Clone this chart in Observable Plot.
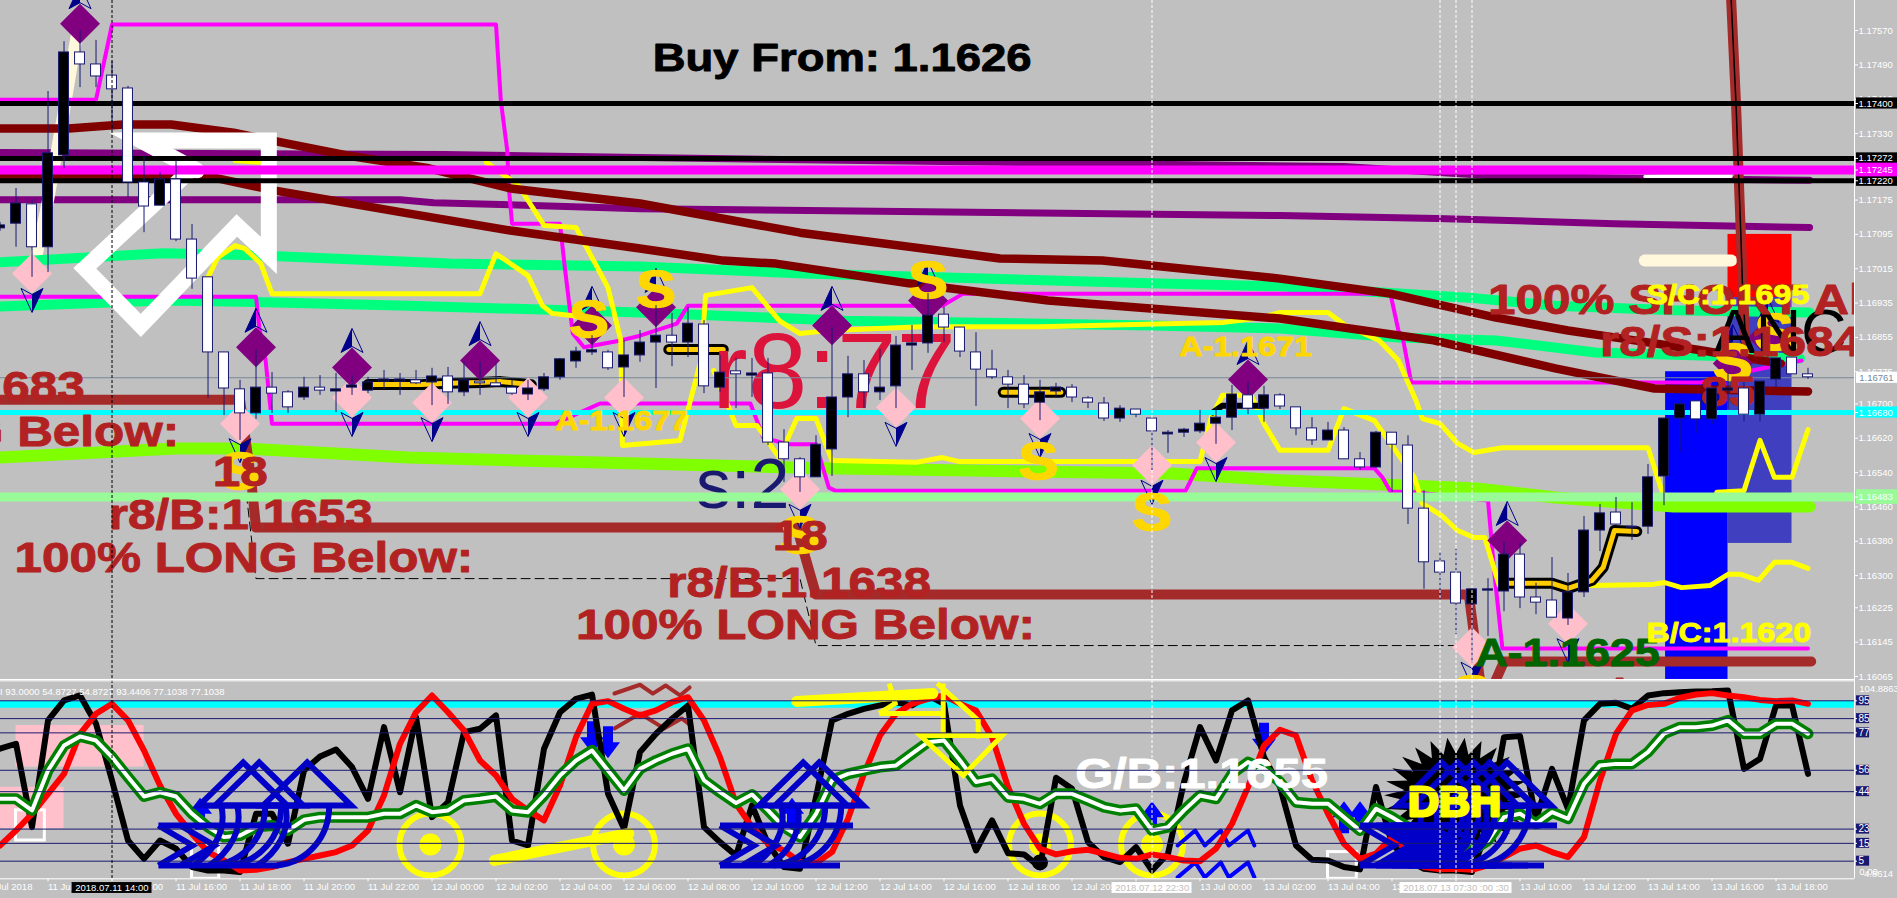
<!DOCTYPE html>
<html><head><meta charset="utf-8">
<script src="https://cdn.jsdelivr.net/npm/d3@7"></script>
<script src="https://cdn.jsdelivr.net/npm/@observablehq/plot@0.6"></script>
<style>
html,body{margin:0;padding:0;background:#C0C0C0;overflow:hidden}
#chart svg{display:block}
</style></head><body><div id="chart"></div>
<script>
// Prices in points (1e-5). x is the bar number: bar 0 = 11 Jul 14:00, one bar = 30 minutes.
const firstBar = -7;
const barHigh = [117123,117202,117176,117428,117544,117570,117547,117498,117440,117279,117239,117267,117118,116995,116820,116755,116825,116773,116731,116762,116766,116771,116766,116762,116778,116771,116778,116783,116785,116797,116797,116794,116755,116755,116771,116806,116832,116859,116825,116848,116871,116929,116911,116925,116894,116813,116806,116806,116806,116640,116575,116626,116878,116811,116801,116827,116857,116883,116957,116925,116878,116866,116825,116778,116766,116755,116748,116745,116717,116715,116696,116687,116666,116638,116643,116685,116692,116743,116750,116741,116724,116692,116668,116657,116645,116587,116636,116633,116626,116498,116354,116361,116268,116293,116377,116375,116282,116342,116305,116438,116466,116482,116470,116559,116666,116708,116706,116736,116773,116750,116752,116806,116808,116783];
const barLow = [117102,117065,116995,117006,117249,117437,117437,117337,117181,117099,117162,117078,116967,116713,116673,116615,116664,116678,116678,116708,116720,116680,116720,116724,116734,116720,116745,116696,116699,116717,116720,116738,116720,116708,116729,116755,116783,116813,116778,116715,116797,116736,116787,116808,116724,116727,116689,116715,116603,116517,116494,116529,116531,116668,116689,116708,116689,116778,116818,116843,116808,116694,116757,116689,116689,116661,116713,116703,116689,116659,116657,116668,116545,116585,116622,116631,116606,116638,116675,116657,116687,116626,116603,116615,116571,116545,116550,116494,116419,116268,116244,116163,116095,116158,116216,116223,116209,116202,116184,116249,116356,116417,116382,116396,116463,116587,116631,116652,116687,116659,116659,116738,116769,116757];
const barOpen = [117109,117120,117165,117065,117279,117519,117491,117465,117435,117216,117162,117223,117083,116995,116820,116734,116678,116738,116727,116715,116738,116729,116738,116731,116752,116752,116755,116750,116764,116727,116752,116748,116738,116722,116734,116762,116799,116820,116820,116785,116813,116843,116859,116843,116885,116738,116776,116766,116771,116610,116571,116529,116594,116715,116769,116727,116741,116836,116841,116908,116878,116820,116780,116762,116745,116703,116729,116738,116713,116701,116666,116687,116666,116629,116633,116636,116654,116668,116720,116689,116720,116692,116643,116615,116638,116571,116552,116633,116603,116456,116333,116307,116233,116265,116263,116349,116249,116242,116200,116261,116405,116447,116412,116414,116531,116666,116706,116664,116731,116736,116675,116757,116808,116769];
const barClose = [117116,117167,117065,117284,117519,117491,117463,117433,117216,117160,117223,117083,116992,116820,116736,116678,116738,116724,116692,116738,116731,116734,116743,116750,116757,116757,116748,116764,116727,116755,116748,116741,116724,116736,116762,116804,116822,116825,116783,116813,116843,116859,116843,116887,116741,116773,116769,116771,116610,116571,116529,116605,116715,116769,116727,116738,116836,116841,116906,116878,116822,116780,116762,116745,116699,116727,116738,116715,116703,116666,116689,116675,116636,116633,116640,116654,116668,116722,116689,116720,116694,116643,116615,116638,116571,116552,116633,116605,116456,116331,116307,116235,116268,116268,116349,116249,116237,116202,116261,116405,116445,116419,116414,116529,116666,116699,116664,116736,116736,116675,116752,116806,116769,116762];

// Horizontal price levels
const blackLevels = [117400,117272,117220];
const magentaLevel = [117245];
const cyanLevel = [116680];
const paleGreenLevel = [116483];
const lastPrice = [116761];

// Right price axis
const plainPriceTicks = [117570,117490,117410,117330,117175,117095,117015,116935,116855,116775,116700,116620,116540,116460,116380,116300,116225,116145,116065];
const boxedPriceTicks = [117400,117272,117245,117220,116680,116483];

// Indicator lines: [bar, price points]
const magentaA = [[-7,117409],[-1,117409],[0,117584],[24,117584],[24.3,117407],[24.7,117291],[24.8,117204],[25,117120],[28,117120],[28.3,117018],[28.8,116864],[29.5,116832],[31.8,116848],[33,116859],[35.3,116887],[36,116929],[51.9,116929],[53.2,116957],[79.9,116957],[80.4,116871],[80.7,116848],[81.2,116750],[99.3,116750],[102.5,116778],[105.6,116801]];
const magentaB = [[-7,116950],[9,116950],[9.2,116878],[9.6,116801],[10,116654],[27.7,116654],[30.5,116701],[39.9,116701],[40.7,116622],[42.2,116606],[44,116606],[44.8,116505],[45.2,116498],[67.1,116498],[67.8,116550],[78.9,116550],[79.4,116529],[79.9,116496],[81.4,116494],[86,116475],[86.4,116305],[86.9,116130],[106,116130]];
const maroonUpper = [[-7,117342],[-2.7,117342],[0.7,117351],[3.7,117351],[7.6,117332],[10.9,117307],[14.7,117279],[19.8,117249],[24.9,117202],[33,117167],[43,117099],[55.5,117039],[61.9,117034],[73,116992],[79.9,116957],[86.5,116901],[91,116871],[93.9,116855],[99.3,116825],[104.3,116794]];
const maroonLower = [[-7,117230],[6.3,117228],[10.2,117197],[18.5,117144],[24.9,117104],[33,117062],[38.2,117034],[41.5,117027],[49.8,116981],[58.5,116941],[73,116899],[82.6,116848],[90.2,116783],[96.4,116736],[106,116729]];
const purpleUpper = [[-7,117286],[20.8,117281],[33,117274],[55.5,117263],[77,117253],[87,117230],[106.1,117221]];
const purpleLower = [[-7,117176],[18,117176],[20.1,117169],[33,117155],[73,117139],[82.8,117132],[93.9,117120],[106.1,117111]];
const springUpper = [[-7,117030],[3.2,117051],[9.3,117046],[21.1,117027],[33,117020],[43.2,117004],[64.9,116981],[73,116974],[85.3,116946],[90.2,116929],[97.6,116918],[106.1,116913]];
const springLower = [[-7,116927],[3.2,116941],[10.9,116936],[18.5,116929],[33,116913],[45.8,116894],[64.9,116883],[73,116876],[80.4,116855],[86.5,116848],[92.7,116820],[105.5,116806]];
const lawnLine = [[-7,116575],[4,116596],[8.3,116596],[18.5,116575],[33,116561],[44.5,116550],[66.2,116538],[73,116522],[85.3,116503],[90.2,116482],[97.6,116461],[106.1,116461]];
const yellowA = [[6,116995],[6.6,117041],[7.7,117069],[8.3,117062],[9.3,117027],[10,116957],[23,116957],[24,117050],[26,116999],[26.9,116929],[27.5,116911],[28.7,116906],[29.9,116899]];
const yellowB = [[7.7,117267],[9.3,117263]];
const yellowC = [[23.4,117263],[25.4,117209],[27,117116],[29,117111],[31,116971],[31.8,116848],[31.9,116603],[35.5,116615],[36.8,116801],[37.1,116953],[40,116971],[41.7,116894],[43,116864],[44.8,116871],[50.6,116880],[58,116880],[65.9,116887],[69.5,116890],[71.8,116901],[73,116913],[76,116913],[77.1,116883],[79.2,116848],[80.4,116801],[81.5,116708],[81.9,116666],[83,116654],[84.1,116608],[85.1,116587],[86.9,116598],[96,116598],[97,116482]];
const yellowD = [[37.6,116778],[39,116650],[40.3,116650],[41.7,116575],[42.8,116666],[44,116666],[45,116568],[50.3,116564],[51.9,116575],[52.9,116566],[68,116566],[68.7,116668],[69.4,116720],[71.2,116720],[72,116654],[73,116592],[76,116592],[77,116689],[78.9,116661],[81.4,116529],[81.9,116468],[83.1,116440],[84.1,116405],[85.1,116389],[85.8,116389],[86.7,116277],[92.5,116277],[96.2,116279],[97,116284],[98.1,116272],[99.9,116277],[101,116303],[101.8,116303],[102.9,116289],[103.9,116331],[105,116331],[106,116317]];
const yellowE = [[100.3,116494],[102,116498],[103,116615],[103.9,116529],[105,116529],[106,116640]];
const brownStep = [[-7,116710],[8,116710],[8.7,116522],[9,116412],[42.8,116412],[44,116256],[84.8,116256],[85.5,116056],[86.2,116032],[87,116100],[106.2,116100]];
const brownTall = [[101.2,117640],[101.5,117400],[101.8,117097],[101.9,116981],[102.1,116848]];
const dashedStep = [[8.3,116522],[9,116293],[43,116293],[44,116137],[84.8,116137],[85.2,116056]];
const creamSpike = [[-5,116995],[-4,117174],[-3,117384],[-2.1,117582]];
const creamPill = [[95.8,117034],[101.2,117034]];
const whitePiece = [[95.8,117230],[101.2,117230]];
const whiteArrow = [[5.3,117244],[1.8,117314],[9.8,117314],[9.8,117046],[7.8,117116],[1.8,116883],[-1.7,117016],[4.9,117244]];
const goldRuns = [
  [[16,116745],[19.3,116745],[21,116748],[23,116750],[24.3,116752],[26.2,116745]],
  [[34.8,116827],[38.2,116827]],
  [[55.7,116727],[59.3,116727]],
  [[87.3,116282],[90,116282],[91,116270],[92.5,116289],[93.2,116319],[93.9,116405],[95.3,116403]]
];
const blackRun = [[68.8,116680],[69.4,116696],[71.9,116696]];

// Shaded zones: [bar from, bar to, price low, price high]
const blueZone = [97.1,101,116000,116775];
const redZone = [101,105,116948,117095];
const indigoZone = [101,105,116375,116948];

// Markers: [bar, price points]
const purpleMarks = [[-2,117586],[9,116832],[15,116785],[23,116801],[30,116883],[34,116925],[45,116883],[51,116941],[71,116757],[87.2,116382],[101.3,116794],[103.5,116855]];
const pinkMarks = [[-5,117004],[8,116654],[15,116715],[20,116703],[26,116715],[32,116715],[43,116501],[49,116692],[58,116666],[65,116557],[69,116610],[85,116133],[91,116188]];
const goldS = [[29.8,116894],[34,116964],[51,116985],[57.9,116564],[65,116445],[8,116540],[43,116391],[101.3,116794],[103.9,116864],[85,116021]];

// Labels: [text, bar, price points]
const brownStart = [["r8/B:1.1653",-0.2,116440],["100% LONG Below:",-6.1,116340],["r8/B:1.1638",34.7,116282],["100% LONG Below:",29,116184],["100% LONG Below:",71.3,116021],["18",6.3,116540],["18",41.3,116391],["85",99.3,116727]];
const brownEnd = [["r8/B:1.1683",-1.7,116738],["100% LONG Below:",4.2,116633]];
const brownTop = [["100% SHORT Above:",86,116941],["r8/S:1.1684",93,116843]];
const goldLabels = [["A-1.1671",66.7,116832],["A-1.1677",27.7,116661],["A-1.1755",-6.4,117665]];
const yellowLabels = [["B/C:1.1620",95.9,116167],["S/C:1.1695",95.9,116953]];

// Lower panel: oscillator readings per bar, from bar -7
const oscBlack = [68.1,70.9,24.1,84,95.2,98,82.1,50.3,16.6,6.3,16.6,12,1.7,-0.2,-0.2,-1.1,31.6,31.6,14.8,55.9,63.8,67.7,57.8,40,80.2,43.7,85.8,29.7,38.1,77.4,79.3,86.8,16.6,13.8,68.1,88.6,96.1,98.5,42.8,23.2,66.2,76.5,84.9,92.4,24.1,15.7,8.2,36.3,14.8,1.7,0.7,40.9,84,87.7,90.5,92.4,94.2,92.4,98,93.3,36.3,11,27.9,9.5,8.8,1.7,51.8,45.6,15.7,7.3,4.5,12.9,-0.2,9.2,49.4,80.2,61.5,89.6,95.2,63.4,46.6,13.8,5.8,5.4,1.7,0.4,46.6,14.8,5.4,0.7,-0.2,-0.2,-1.1,24.1,74.6,75.2,28.8,56.8,34.4,84,93.3,93.9,90.5,98,99.3,99.8,100.2,100.4,100.8,56.8,62.4,92.4,92.4,54];
const oscRed = [13.8,22.2,31.6,42.8,54,76.5,87.7,93.3,84,67.1,47.5,31.6,20.4,10.1,5.4,-0.2,0.2,1.7,4.5,6.3,8.2,10.1,13.8,22.2,41.9,70.9,88.6,98,88.6,78.3,61.5,53.1,40,33.5,27.9,47.5,74.6,93.3,94.8,90.5,86.8,89.6,94.2,97,84,63.4,37.2,24.1,14.8,11,4.5,3.9,10.1,28.8,54,75.5,87.7,93.3,96.1,98,93.3,89.6,74.6,46.6,26,12,8.8,10.6,11.4,9.2,6.9,6.3,8.8,7.3,5.4,5,12,26,46.6,69.9,78.7,75.5,50.3,31.6,14.8,6.3,9.2,18.5,11,1.7,0.4,0.7,0.2,2.6,7.3,12,13.8,10.1,7.3,18.5,50.3,76.5,89.6,92.7,93.3,96.7,98.5,99.3,98,97,95.5,94.8,95.2,93.3];
const oscGreen = [40,40,33.5,55.9,69.9,75,72.7,63.4,52.2,41.3,43.7,41.3,31.6,24.1,18.5,19.4,24.1,25,22.2,28.2,29.7,29.7,29.7,29.7,31.6,31.6,36.3,32.5,33.5,39.1,40,41.3,33.5,32.5,41.9,53.1,61.5,67.1,55.9,44.7,56.8,61.5,65.3,68.1,50.3,43.7,37.6,42.4,33.5,24.1,18.5,31.6,50.3,54,55.9,57.8,58.7,65.3,71.8,72.7,61.5,49.4,51.2,40.9,40,37.2,42.8,42.8,39.1,35.3,33.5,34.4,22.2,24.1,33.5,41.9,40,54,60.6,56.8,49.4,38.1,37.2,37.2,29.7,22.2,34.4,29.7,24.1,18.5,11,7.3,11,16.6,29.7,31.6,26,32.5,28.8,48.4,58.7,59.6,59.6,66.2,76.5,80.2,80.2,81.1,84,76.5,76.5,82.1,82.1,76.5];
const oscLevels = [95,85,77,56,44,23,15,5];
const cyanBand = [93];
const pinkZones = [[-6,2,57.8,81.1],[-7,-3,23.2,46.5]];
const whiteBoxes = [[-6,-4.2,16.6,33.5],[5,6.7,-4.9,14.8],[76,77.8,-4.9,10.1]];
const ringCentres = [[19.9,14.4],[32,14.4],[58,14.4],[65,14.4]];
const blackDisc = [[58,4.3]];
const yellowPills = [[[23.9,5.4],[32.3,20.6]],[[42.8,94.6],[51.3,99.1]]];
const brownZig = [[[31.4,99.1],[33,104],[33.8,99],[34.6,103.6],[35.5,98],[36.1,102.5]],[[31.4,79.5],[33,87.9],[34.5,79.5],[35.6,85.1],[36.2,81.1]]];
const blueZig = [[[66.6,13.8],[67.7,22.2],[68.3,13.8],[69.3,22.2],[69.8,13.8],[71,22.2],[71.4,13.8]],[[66.6,-4.1],[67.7,4.3],[68.3,-4.1],[69.3,4.3],[69.8,-4.1],[71,4.3],[71.4,-4.1]]];
const blueUpGlyphs = [[8.2,60.4],[9.2,60.4],[12.2,60.4],[43.2,60.4],[44.2,60.4],[83.1,60.4],[84.1,60.4],[85.1,60.4],[86.1,60.4],[87.2,60.4]];
const blueChevrons = [[2.9,13.8],[38,13.8],[78,13.8],[79,13.8],[80,13.8],[81,13.8],[82,13.8]];
const blockDown = [[30,74.6],[31,71.8],[72,73.7]];
const blockUp = [[5.5,31.6],[42.5,31.6],[65,29.7],[77,29.7],[78,29.7]];
const burst = [[84,42]];
const yellowGlyph = [[53.2,53.1]];

// Time axis
const timeTicks = [-8,-4,0,4,8,12,16,20,24,28,32,36,40,44,48,52,56,60,64,68,72,76,80,84,88,92,96,100,104];
const timeLabels = ["11 Jul 2018","11 Jul 12:00","11 Jul 14:00","11 Jul 16:00","11 Jul 18:00","11 Jul 20:00","11 Jul 22:00","12 Jul 00:00","12 Jul 02:00","12 Jul 04:00","12 Jul 06:00","12 Jul 08:00","12 Jul 10:00","12 Jul 12:00","12 Jul 14:00","12 Jul 16:00","12 Jul 18:00","12 Jul 20:00","12 Jul 22:00","13 Jul 00:00","13 Jul 02:00","13 Jul 04:00","13 Jul 06:00","13 Jul 08:00","13 Jul 10:00","13 Jul 12:00","13 Jul 14:00","13 Jul 16:00","13 Jul 18:00"];
const blackCursor = [0];
const whiteCursors = [65,83,84,85];

const bars = barHigh.map((h,k)=>({i:firstBar+k,h,l:barLow[k],o:barOpen[k],c:barClose[k]}));
const osc = oscBlack.map((b,k)=>({i:firstBar+k,b,r:oscRed[k],g:oscGreen[k]}));
const X = d=>d[0], Y = d=>d[1];
const xDomain = [-6.97,108.906];
const FONT = '"Liberation Sans",Arial,sans-serif';

function ln(data,stroke,strokeWidth,extra={}){return Plot.line(data,{x:X,y:Y,stroke,strokeWidth,clip:true,strokeLinejoin:"round",...extra});}
function lab(data,size,fill,extra={}){return Plot.text(data,{text:d=>d[0],x:d=>d[1],y:d=>d[2],fontSize:size,fill,stroke:fill,strokeWidth:0.9,fontWeight:"bold",fontFamily:FONT,textAnchor:"start",lineAnchor:"middle",clip:true,className:"wide",...extra});}
function wideSingle(t,x,y,size,fill,extra={}){return lab([[t,x,y]],size,fill,extra);}
function box(y,half,fill){return Plot.rect([y],{x1:109.03,x2:111.7,y1:d=>d-half,y2:d=>d+half,fill});}

// custom glyphs for chart-window arrows (pixel shapes drawn by Plot.dot)
const kiteUpFill={draw(c){c.moveTo(0,-15);c.lineTo(-11,9);c.lineTo(0,3);c.closePath();}};
const kiteUpLine={draw(c){c.moveTo(0,-15);c.lineTo(-11,9);c.lineTo(0,3);c.lineTo(11,9);c.closePath();}};
const kiteDownFill={draw(c){c.moveTo(0,15);c.lineTo(11,-9);c.lineTo(0,-3);c.closePath();}};
const kiteDownLine={draw(c){c.moveTo(0,15);c.lineTo(11,-9);c.lineTo(0,-3);c.lineTo(-11,-9);c.closePath();}};
const upGlyph={draw(c){c.moveTo(0,0);c.lineTo(-44,43);c.lineTo(44,43);c.closePath();
  c.moveTo(22,43);c.bezierCurveTo(22,75,0,100,-30,103);
  c.moveTo(-22,43);c.bezierCurveTo(-16,68,-30,90,-50,103);}};
const chevGlyph={draw(c){c.moveTo(0,-20);c.lineTo(34,0);c.lineTo(0,20);c.moveTo(22,-20);c.lineTo(56,0);c.lineTo(22,20);
  c.moveTo(0,-20);c.lineTo(133,-20);c.moveTo(0,20);c.lineTo(120,20);}};
const blockDownSym={draw(c){c.moveTo(-5,-16);c.lineTo(5,-16);c.lineTo(5,0);c.lineTo(12,0);c.lineTo(0,16);c.lineTo(-12,0);c.lineTo(-5,0);c.closePath();}};
const blockUpSym={draw(c){c.moveTo(-5,16);c.lineTo(5,16);c.lineTo(5,0);c.lineTo(12,0);c.lineTo(0,-16);c.lineTo(-12,0);c.lineTo(-5,0);c.closePath();}};
const burstSym={draw(c){const n=26;for(let k=0;k<2*n;k++){const a=k*Math.PI/n,f=k%2?0.72:1;const px=Math.cos(a)*72*f,py=Math.sin(a)*58*f;k?c.lineTo(px,py):c.moveTo(px,py);}c.closePath();}};
const yellowSym={draw(c){c.moveTo(-43,-40);c.lineTo(39,-40);c.lineTo(0,0);c.closePath();
  c.moveTo(-20,-40);c.lineTo(-20,-92);c.moveTo(-84,-62);c.lineTo(-20,-62);
  c.moveTo(-74,-92);c.lineTo(-68,-72);c.lineTo(-84,-62);
  c.moveTo(-26,-92);c.lineTo(15,-55);c.lineTo(15,-37);}};

const tickStyle = {anchor:"right",tickFormat:d=>(d/1e5).toFixed(5),tickSize:3,tickPadding:1,fontSize:9.5,fill:"#FFFFFF",stroke:"#FFFFFF",label:null};

const main = Plot.plot({
  width:1897,height:680,marginTop:0,marginLeft:0,marginBottom:0,marginRight:43,
  style:{background:"#C0C0C0",fontFamily:FONT,display:"block"},
  x:{domain:xDomain,axis:null},
  y:{domain:[116055.6,117640],axis:null},
  marks:[
    Plot.rect([redZone],{x1:d=>d[0],x2:d=>d[1],y1:d=>d[2],y2:d=>d[3],fill:"#FF0000",clip:true}),
    Plot.rect([indigoZone],{x1:d=>d[0],x2:d=>d[1],y1:d=>d[2],y2:d=>d[3],fill:"#3F3FBF",clip:true}),
    Plot.rect([blueZone],{x1:d=>d[0],x2:d=>d[1],y1:d=>d[2],y2:d=>d[3],fill:"#0000FF",clip:true}),
    ln(purpleUpper,"#800080",7,{strokeLinecap:"round"}),
    ln(purpleLower,"#800080",7,{strokeLinecap:"round"}),
    ln(creamSpike,"#FFF8DC",12,{strokeLinecap:"round"}),
    ln(springUpper,"#00FF7F",10),
    ln(springLower,"#00FF7F",10),
    ln(lawnLine,"#7FFF00",12,{strokeLinecap:"round"}),
    ln(magentaA,"#FF00FF",4),
    ln(magentaB,"#FF00FF",4),
    ln(yellowA,"#FFFF00",5),ln(yellowB,"#FFFF00",5),ln(yellowC,"#FFFF00",5),ln(yellowD,"#FFFF00",5),ln(yellowE,"#FFFF00",5),
    ln(maroonUpper,"#800000",8.5),
    ln(maroonLower,"#800000",8.5,{strokeLinecap:"round"}),
    ln(whitePiece,"#FFFFFF",3),
    ln(creamPill,"#FFF8DC",12,{strokeLinecap:"round"}),
    ln(whiteArrow,"#FFFFFF",16,{strokeLinejoin:"miter",strokeMiterlimit:10}),
    ln(brownStep,"#A52A2A",10,{strokeLinecap:"round"}),
    ln(brownTall,"#A52A2A",10),
    ln(brownTall,"#000000",1.5),
    ln(blackRun,"#000000",6),
    ...goldRuns.map(r=>ln(r,"#000000",11,{strokeLinecap:"round"})),
    ...goldRuns.map(r=>ln(r,"#FFCC00",5,{strokeLinecap:"round"})),
    ln(dashedStep,"#000000",1,{strokeDasharray:"9,5"}),
    Plot.text(["r8:77"],{x:37.5,y:116771,fontSize:107,fill:"#DC143C",fontFamily:FONT,textAnchor:"start",lineAnchor:"middle",clip:true}),
    Plot.text(["s:2"],{x:36.5,y:116510,fontSize:70,fill:"#191970",fontFamily:FONT,textAnchor:"start",lineAnchor:"middle",clip:true}),
    Plot.ruleY(blackLevels,{stroke:"#000000",strokeWidth:5}),
    Plot.ruleY(magentaLevel,{stroke:"#FF00FF",strokeWidth:9}),
    Plot.ruleY(cyanLevel,{stroke:"#00FFFF",strokeWidth:5}),
    Plot.ruleY(paleGreenLevel,{stroke:"#98FB98",strokeWidth:9}),
    Plot.ruleY(lastPrice,{stroke:"#778899",strokeWidth:1}),
    Plot.dot(pinkMarks,{x:X,y:Y,symbol:"diamond2",r:18,fill:"#FFC0CB",clip:true}),
    Plot.dot(purpleMarks,{x:X,y:Y,symbol:"diamond2",r:18,fill:"#800080",clip:true}),
    Plot.dot(pinkMarks,{x:X,y:Y,symbol:kiteDownLine,r:1,fill:"none",stroke:"#00008B",strokeWidth:1,dy:24,clip:true}),
    Plot.dot(pinkMarks,{x:X,y:Y,symbol:kiteDownFill,r:1,fill:"#00008B",dy:24,clip:true}),
    Plot.dot(purpleMarks,{x:X,y:Y,symbol:kiteUpLine,r:1,fill:"none",stroke:"#00008B",strokeWidth:1,dy:-24,clip:true}),
    Plot.dot(purpleMarks,{x:X,y:Y,symbol:kiteUpFill,r:1,fill:"#00008B",dy:-24,clip:true}),
    Plot.text(goldS,{text:()=>"S",x:X,y:Y,fontSize:52,fontWeight:"bold",fill:"#FFD700",stroke:"#FFD700",strokeWidth:1.5,fontFamily:FONT,textAnchor:"middle",lineAnchor:"middle",clip:true,className:"wide"}),
    Plot.text(["ANC"],{x:100.1,y:116866,fontSize:63,fill:"#000000",fontFamily:FONT,textAnchor:"start",lineAnchor:"middle",clip:true}),
    lab(brownStart,43,"#B22222"),
    lab(brownEnd,43,"#B22222",{textAnchor:"end"}),
    lab(goldLabels,28,"#FFD700"),
    wideSingle("A-1.1625",85.2,116118,39,"#006400"),
    wideSingle("Buy From: 1.1626",33.8,117505,39.5,"#000000"),
    // candles
    Plot.ruleX(bars,{x:"i",y1:"l",y2:"h",stroke:"#191970",strokeWidth:1,clip:true}),
    Plot.rect(bars,{x1:d=>d.i-0.31,x2:d=>d.i+0.31,y1:"o",y2:"c",fill:d=>d.c>d.o?"#000000":"#FFFFFF",stroke:"#191970",strokeWidth:1,clip:true}),
    lab(brownTop,43,"#B22222"),
    lab(yellowLabels,28,"#FFFF00"),
    // right axis
    Plot.ruleX([xDomain[1]],{stroke:"#FFFFFF",strokeWidth:1}),
    Plot.ruleY([116058],{stroke:"#FFFFFF",strokeWidth:1}),
    Plot.axisY({...tickStyle,ticks:plainPriceTicks}),
    box(117400,13,"#000000"),box(117272,13,"#000000"),box(117220,13,"#000000"),
    box(117245,16,"#FF00FF"),box(116761,13,"#FFFFFF"),box(116680,13,"#00FFFF"),box(116483,17,"#98FB98"),
    Plot.axisY({...tickStyle,ticks:boxedPriceTicks}),
    Plot.text(lastPrice,{x:109.2,y:d=>d,text:d=>(d/1e5).toFixed(5),fontSize:9.5,fill:"#778899",textAnchor:"start",fontFamily:FONT}),
    Plot.ruleX(blackCursor,{stroke:"#000000",strokeWidth:1,strokeDasharray:"3,2"}),
    Plot.ruleX(whiteCursors,{stroke:"#FFFFFF",strokeWidth:1,strokeDasharray:"3,2"})
  ]
});

const lower = Plot.plot({
  width:1897,height:218,marginTop:0,marginLeft:0,marginBottom:19.7,marginRight:43,
  style:{background:"#C0C0C0",fontFamily:FONT,display:"block"},
  x:{domain:xDomain,axis:null},
  y:{domain:[-4.89,106.39],axis:null},
  marks:[
    Plot.rect(pinkZones,{x1:d=>d[0],x2:d=>d[1],y1:d=>d[2],y2:d=>d[3],fill:"#FFC0CB",clip:true}),
    Plot.ruleY(cyanBand,{stroke:"#00FFFF",strokeWidth:7}),
    Plot.rect(whiteBoxes,{x1:d=>d[0],x2:d=>d[1],y1:d=>d[2],y2:d=>d[3],fill:"none",stroke:"#FFFFFF",strokeWidth:3,clip:true}),
    Plot.dot(ringCentres,{x:X,y:Y,r:31,fill:"none",stroke:"#FFFF00",strokeWidth:6,clip:true}),
    Plot.dot(ringCentres,{x:X,y:Y,r:11,fill:"#FFFF00",clip:true}),
    ...brownZig.map(z=>ln(z,"#A52A2A",4)),
    ...blueZig.map(z=>ln(z,"#0000FF",4)),
    Plot.dot(burst,{x:X,y:Y,symbol:burstSym,r:1,fill:"#000000",clip:true}),
    Plot.dot(blockDown,{x:X,y:Y,symbol:blockDownSym,r:1,fill:"#0000FF",clip:true}),
    Plot.dot(blockUp,{x:X,y:Y,symbol:blockUpSym,r:1,fill:"#0000FF",clip:true}),
    Plot.line(osc,{x:"i",y:"b",stroke:"#000000",strokeWidth:6,strokeLinejoin:"round",strokeLinecap:"round",clip:true}),
    Plot.dot(blackDisc,{x:X,y:Y,r:8,fill:"#000000",clip:true}),
    Plot.line(osc,{x:"i",y:"r",stroke:"#FF0000",strokeWidth:6,strokeLinejoin:"round",strokeLinecap:"round",clip:true}),
    Plot.line(osc,{x:"i",y:"g",stroke:"#008000",strokeWidth:11,strokeLinejoin:"round",strokeLinecap:"round",clip:true}),
    Plot.line(osc,{x:"i",y:"g",stroke:"#FFFFFF",strokeWidth:4,strokeLinejoin:"round",clip:true}),
    Plot.dot(blueUpGlyphs,{x:X,y:Y,symbol:upGlyph,r:1,fill:"none",stroke:"#0000C8",strokeWidth:6,strokeLinejoin:"miter",clip:true}),
    Plot.dot(blueChevrons,{x:X,y:Y,symbol:chevGlyph,r:1,fill:"none",stroke:"#0000C8",strokeWidth:6,strokeLinejoin:"miter",clip:true}),
    Plot.dot(yellowGlyph,{x:X,y:Y,symbol:yellowSym,r:1,fill:"none",stroke:"#FFFF00",strokeWidth:5,strokeLinejoin:"miter",clip:true}),
    ...yellowPills.map(p=>ln(p,"#FFFF00",11,{strokeLinecap:"round"})),
    Plot.text(["DBH"],{x:81,y:38,fontSize:43,fontWeight:"bold",fill:"#FFFF00",stroke:"#FFFF00",strokeWidth:3,fontFamily:FONT,textAnchor:"start",lineAnchor:"middle"}),
    Plot.text(["G/B:1.1655"],{x:60.2,y:53.9,fontSize:42.5,fontWeight:"bold",fill:"#FFFFFF",stroke:"#FFFFFF",strokeWidth:0.9,fontFamily:FONT,textAnchor:"start",lineAnchor:"middle",className:"wide"}),
    Plot.text(["I 93.0000 54.8727 54.8727 93.4406 77.1038 77.1038"],{x:-7,y:100,fontSize:9.5,fill:"#FFFFFF",fontFamily:FONT,textAnchor:"start"}),
    Plot.ruleY(oscLevels,{stroke:"#191970",strokeWidth:1}),
    Plot.ruleX(blackCursor,{stroke:"#000000",strokeWidth:1,strokeDasharray:"3,2"}),
    Plot.ruleX(whiteCursors,{stroke:"#FFFFFF",strokeWidth:1,strokeDasharray:"3,2"}),
    Plot.ruleX([xDomain[1]],{stroke:"#FFFFFF",strokeWidth:1}),
    Plot.ruleY([106.2],{stroke:"#FFFFFF",strokeWidth:1}),
    Plot.ruleY([-4.89],{stroke:"#FFFFFF",strokeWidth:1}),
    Plot.rect(oscLevels,{x1:109.03,x2:109.85,y1:d=>d-2.8,y2:d=>d+2.8,fill:"#191970"}),
    Plot.axisY({anchor:"right",ticks:oscLevels,tickFormat:d=>d,tickSize:2,tickPadding:2,fontSize:10,fill:"#FFFFFF",stroke:"#FFFFFF",label:null}),
    Plot.text(["104.8863"],{x:109.2,y:101.7,fontSize:9.5,fill:"#FFFFFF",textAnchor:"start",fontFamily:FONT}),
    Plot.text(["0.00"],{x:109.2,y:-1,fontSize:9.5,fill:"#FFFFFF",textAnchor:"start",fontFamily:FONT}),
    Plot.text(["-4.8614"],{x:109.3,y:-2,fontSize:9.5,fill:"#FFFFFF",textAnchor:"start",fontFamily:FONT}),
    Plot.axisX({anchor:"bottom",ticks:timeTicks,tickFormat:d=>timeLabels[timeTicks.indexOf(d)],tickSize:3,tickPadding:1,textAnchor:"start",fontSize:9.5,fill:"#FFFFFF",stroke:"#FFFFFF",label:null}),
    Plot.rect([[-2.5,2.5]],{x1:X,x2:Y,y1:-13.1,y2:-7,fill:"#000000"}),
    Plot.text(["2018.07.11 14:00"],{x:-2.3,y:-10,fontSize:9.5,fill:"#FFFFFF",textAnchor:"start",fontFamily:FONT}),
    Plot.rect([[62.5,67.5],[80.5,87.5]],{x1:X,x2:Y,y1:-13.1,y2:-7,fill:"#FFFFFF"}),
    Plot.text(["2018.07.12 22:30"],{x:62.7,y:-10,fontSize:9.5,fill:"#C0C0C0",textAnchor:"start",fontFamily:FONT}),
    Plot.text(["2018.07.13 07:30 :00 :30"],{x:80.7,y:-10,fontSize:9.5,fill:"#C0C0C0",textAnchor:"start",fontFamily:FONT})
  ]
});
const host = document.getElementById("chart");
host.append(main,lower);
document.querySelectorAll(".wide text, text.wide").forEach(el=>{
  const w = el.getComputedTextLength();
  el.setAttribute("textLength",(w*1.15).toFixed(1));
  el.setAttribute("lengthAdjust","spacingAndGlyphs");
});
</script></body></html>
